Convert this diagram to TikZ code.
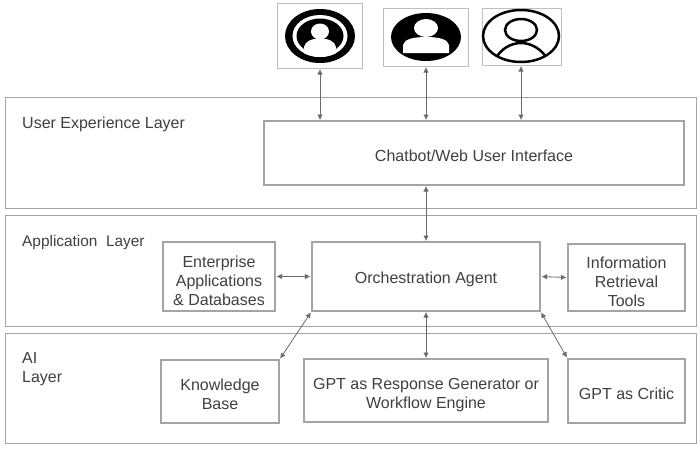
\documentclass[tikz,border=0pt]{standalone}
\usepackage{fontspec}
\setmainfont{Liberation Sans}
\usetikzlibrary{arrows.meta}
\definecolor{edgegray}{HTML}{A4A4A4}
\definecolor{inkgray}{HTML}{404040}
\definecolor{arrowgray}{HTML}{6A6A6A}
\tikzset{
  x=1pt,y=-1pt,
  layerbox/.style={draw=edgegray,line width=1pt,fill=white,rectangle,inner sep=0pt},
  blockbox/.style={draw=edgegray,line width=1.1pt,fill=white,rectangle,inner sep=0pt,font=\fontsize{16}{19}\selectfont,text=inkgray,align=center},
  iconbox/.style={draw=edgegray!70,line width=1pt,fill=white,rectangle,inner sep=0pt},
  labeltext/.style={font=\fontsize{16}{19}\selectfont,text=inkgray,align=left,anchor=west,inner sep=0pt},
  link/.style={draw=arrowgray,line width=0.8pt,{Latex[length=5.5pt,width=5.5pt]}-{Latex[length=5.5pt,width=5.5pt]},shorten <=1pt,shorten >=1pt},
}
\newcommand{\boxat}[6]{\node[#2,minimum width=#5pt-#3pt,minimum height=#6pt-#4pt] (#1) at ({(#3+#5)/2},{(#4+#6)/2})}
\newcommand{\dn}{\mbox{}\\[-2pt]}
\newcommand{\dnb}{\mbox{}\\[1pt]}
\begin{document}
\begin{tikzpicture}
\useasboundingbox (0,0) rectangle (700,448);
\fill[white] (0,0) rectangle (700,448);
% layers
\boxat{ux}{layerbox}{5}{97}{696}{208} {};
\boxat{app}{layerbox}{5}{215}{696}{326} {};
\boxat{ai}{layerbox}{5}{333}{696}{443} {};
\node[labeltext] (uxl) at (22,124) {User Experience Layer};
\node[labeltext,font=\fontsize{15.4}{19}\selectfont] (appl) at (22,243) {Application\ \ Layer};
\node[labeltext] (ail) at (22,369.5) {AI\\Layer};
% blocks
\boxat{chat}{blockbox}{264}{121}{684}{185} {\dn Chatbot/Web User Interface};
\boxat{ent}{blockbox}{163}{242}{275}{311} {\dnb Enterprise\\Applications\\\&\ Databases};
\boxat{orch}{blockbox}{312}{242}{540}{311} {\dn Orchestration Agent};
\boxat{info}{blockbox}{568}{244}{685}{311} {\dnb Information\\Retrieval\\Tools};
\boxat{kb}{blockbox}{161}{360}{279}{423} {\dn Knowledge\\Base};
\boxat{gpt}{blockbox}{304}{359}{548}{422} {\dnb GPT as Response Generator or\\Workflow Engine};
\boxat{crit}{blockbox}{568}{359}{685}{423} {\dn GPT as Critic};
% icon boxes
\boxat{ia}{iconbox}{277}{3}{362}{68} {};
\boxat{ib}{iconbox}{383}{8}{468}{66} {};
\boxat{ic}{iconbox}{482}{8}{561}{65} {};
% icon 1
\fill[black] (320,36) ellipse (35 and 27);
\fill[white] (320,36) ellipse (27.5 and 21);
\fill[black] (320,36) ellipse (23.5 and 17.5);
\begin{scope}
\clip (320,36) ellipse (27.5 and 21);
\fill[white] (304,60) -- (304,47) .. controls (305,41) and (312,38.5) .. (320,38.5) .. controls (328,38.5) and (335,41) .. (336,47) -- (336,60) -- cycle;
\end{scope}
\fill[white] (320,31.5) ellipse (9 and 8);
% icon 2
\fill[black] (426,37) ellipse (35 and 24);
\fill[white] (403,53) -- (403,45) .. controls (404,39) and (414,37) .. (426,37) .. controls (438,37) and (448,39) .. (449,45) -- (449,53) -- cycle;
\fill[white] (426,28) ellipse (12 and 9);
% icon 3
\draw[black,line width=2.5pt] (521,36) ellipse (38 and 26);
\begin{scope}
\clip (521,36) ellipse (38 and 26);
\draw[black,line width=2.5pt] (495,60) .. controls (500,49) and (511,43) .. (521,43) .. controls (531,43) and (542,49) .. (548,60);
\end{scope}
\draw[black,line width=2.5pt] (521,30) ellipse (16 and 11);
% connectors
\draw[link] (320,68) -- (320,121);
\draw[link] (426,66) -- (426,121);
\draw[link] (521,65) -- (521,121);
\draw[link] (426,185) -- (426,242);
\draw[link] (ent.east) -- (orch.west);
\draw[link] (orch.east) -- (info.west);
\draw[link] (orch.south west) -- (kb.north east);
\draw[link] (426,311) -- (426,359);
\draw[link] (orch.south east) -- (crit.north west);
\end{tikzpicture}
\end{document}
